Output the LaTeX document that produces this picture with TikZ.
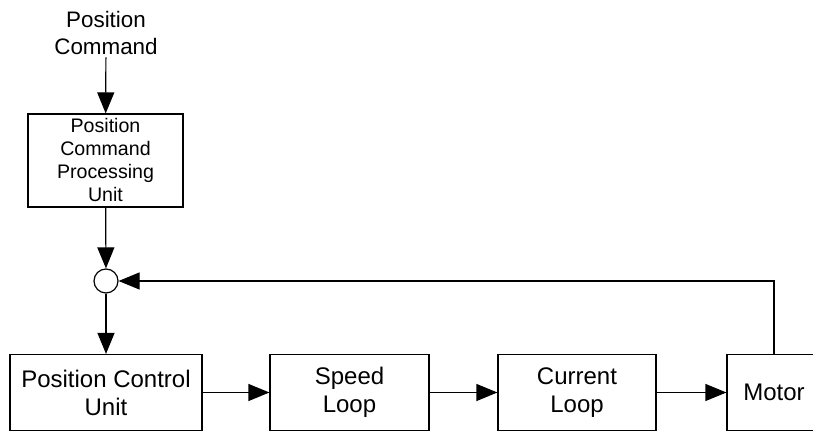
\documentclass[tikz,border=0pt]{standalone}
\usepackage{fontspec}
\setmainfont{Liberation Sans}
\usetikzlibrary{positioning,calc,arrows.meta}

\begin{document}
\begin{tikzpicture}[x = 0.5pt, y = -0.5pt, >={Triangle[length=10.5pt, width=8.5pt]}, line width = 0.6pt,
		block/.style = {draw, rectangle, align = center, inner sep = 0pt, minimum height = 38pt, font = \fontsize{12}{14}\selectfont},
		sumnode/.style = {draw, circle, minimum size = 12pt, inner sep = 0pt}]
		\useasboundingbox (0,0) rectangle (813,431);
		\node (cmd) at (106,33) [align = center, inner sep = 1pt, font = \fontsize{11.2}{13.5}\selectfont] {Position\\Command};
		\node (proc) at (105.5,160.5) [draw, align = center, inner sep = 0pt, minimum width = 77.5pt, minimum height = 46.5pt, font = \fontsize{9.8}{11.5}\selectfont] {Position\\Command\\Processing\\Unit};
		\node (sum) at (106,281) [sumnode] {};
		\node (pcu) at (106,392.5) [block, minimum width = 96pt] {Position Control\\Unit};
		\node (speed) at (349.5,392.5) [block, minimum width = 79.5pt] {Speed\\Loop};
		\node (current) at (577,392.5) [block, minimum width = 79pt] {Current\\Loop};
		\node (motor) at (774,392.5) [block, minimum width = 47pt] {Motor};
		% forward path
		\draw [->] (cmd) -- (proc);
		\draw [->] (proc) -- (sum);
		\draw [->] (sum) -- (pcu);
		\draw [->] (pcu) -- (speed);
		\draw [->] (speed) -- (current);
		\draw [->] (current) -- (motor);
		% feedback
		\draw [->] (motor.north) |- (sum.east);
	\end{tikzpicture}
\end{document}
